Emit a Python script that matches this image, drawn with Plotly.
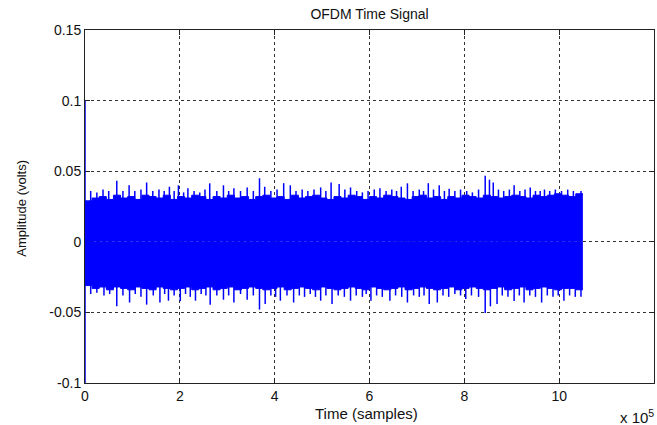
import plotly.graph_objects as go

# ---- data (time in units of 1e5 samples, amplitude in volts) ----
env_t = [round(i * 0.15, 2) for i in range(71)]  # bin starts 0 .. 10.5
env_upper = [0.029, 0.031, 0.032, 0.030, 0.033, 0.031, 0.032, 0.030, 0.033, 0.032,
             0.031, 0.033, 0.030, 0.032, 0.031, 0.033, 0.032, 0.030, 0.032, 0.031,
             0.033, 0.031, 0.032, 0.030, 0.032, 0.033, 0.031, 0.032, 0.030, 0.033,
             0.031, 0.032, 0.033, 0.031, 0.030, 0.032, 0.031, 0.033, 0.032, 0.030,
             0.032, 0.031, 0.033, 0.032, 0.031, 0.030, 0.032, 0.033, 0.031, 0.032,
             0.030, 0.032, 0.031, 0.033, 0.032, 0.031, 0.033, 0.032, 0.031, 0.032,
             0.033, 0.032, 0.031, 0.033, 0.032, 0.033, 0.034, 0.033, 0.032, 0.034, 0.034]
env_lower = [-0.031, -0.033, -0.032, -0.034, -0.032, -0.033, -0.034, -0.032, -0.033, -0.034,
             -0.032, -0.033, -0.034, -0.033, -0.032, -0.034, -0.033, -0.032, -0.034, -0.033,
             -0.032, -0.034, -0.033, -0.032, -0.033, -0.034, -0.033, -0.032, -0.034, -0.033,
             -0.032, -0.033, -0.034, -0.032, -0.033, -0.034, -0.033, -0.032, -0.033, -0.034,
             -0.032, -0.033, -0.034, -0.033, -0.032, -0.034, -0.033, -0.032, -0.033, -0.034,
             -0.033, -0.032, -0.034, -0.033, -0.032, -0.033, -0.034, -0.033, -0.032, -0.034,
             -0.033, -0.032, -0.034, -0.033, -0.032, -0.033, -0.034, -0.033, -0.033, -0.034, -0.034]

top_spike_t = [0.00, 0.12, 0.25, 0.38, 0.50, 0.67, 0.80, 0.93, 1.05, 1.18, 1.30, 1.43, 1.56, 1.67,
               1.78, 1.88, 1.97, 2.08, 2.17, 2.30, 2.42, 2.53, 2.63, 2.78, 2.92, 3.03, 3.14, 3.28,
               3.42, 3.55, 3.68, 3.79, 3.92, 4.05, 4.19, 4.33, 4.45, 4.58, 4.70, 4.83, 4.97, 5.08,
               5.19, 5.36, 5.48, 5.60, 5.73, 5.85, 5.97, 6.10, 6.22, 6.35, 6.47, 6.57, 6.67, 6.80,
               6.92, 7.05, 7.14, 7.24, 7.35, 7.47, 7.58, 7.68, 7.80, 7.92, 8.05, 8.17, 8.30, 8.44,
               8.53, 8.61, 8.72, 8.83, 8.95, 9.05, 9.17, 9.28, 9.39, 9.50, 9.60, 9.69, 9.80, 9.92,
               10.05, 10.18, 10.30, 10.46]
top_spike_v = [0.100, 0.036, 0.035, 0.037, 0.036, 0.0433, 0.036, 0.040, 0.036, 0.037, 0.042, 0.036, 0.037, 0.036,
               0.039, 0.036, 0.040, 0.035, 0.038, 0.036, 0.035, 0.037, 0.0414, 0.036, 0.040, 0.036, 0.038, 0.036,
               0.0385, 0.036, 0.045, 0.039, 0.036, 0.037, 0.0415, 0.040, 0.036, 0.037, 0.036, 0.037, 0.0385, 0.036,
               0.042, 0.041, 0.037, 0.0385, 0.036, 0.035, 0.036, 0.037, 0.038, 0.036, 0.037, 0.036, 0.039, 0.0414,
               0.036, 0.037, 0.036, 0.0415, 0.037, 0.040, 0.036, 0.0375, 0.036, 0.037, 0.036, 0.035, 0.037, 0.0467,
               0.044, 0.042, 0.037, 0.036, 0.037, 0.040, 0.036, 0.037, 0.0385, 0.036, 0.036, 0.037, 0.036, 0.037,
               0.036, 0.037, 0.036, 0.036]

bot_spike_t = [0.00, 0.12, 0.25, 0.40, 0.52, 0.67, 0.80, 0.94, 1.06, 1.18, 1.30, 1.44, 1.58, 1.68,
               1.76, 1.88, 2.01, 2.12, 2.22, 2.33, 2.45, 2.55, 2.64, 2.78, 2.92, 3.03, 3.14, 3.28,
               3.42, 3.55, 3.68, 3.80, 3.92, 4.02, 4.12, 4.26, 4.40, 4.52, 4.63, 4.75, 4.86, 4.97,
               5.08, 5.21, 5.34, 5.47, 5.60, 5.72, 5.85, 5.93, 6.03, 6.15, 6.27, 6.43, 6.55, 6.68,
               6.80, 6.93, 7.05, 7.15, 7.26, 7.43, 7.55, 7.67, 7.80, 7.92, 8.03, 8.15, 8.30, 8.44,
               8.55, 8.69, 8.80, 8.92, 9.05, 9.16, 9.26, 9.38, 9.50, 9.63, 9.75, 9.87, 9.98, 10.10,
               10.22, 10.34, 10.46]
bot_spike_v = [-0.100, -0.037, -0.036, -0.038, -0.037, -0.0457, -0.038, -0.043, -0.037, -0.039, -0.0445, -0.038, -0.043, -0.037,
               -0.0417, -0.038, -0.042, -0.037, -0.039, -0.0417, -0.037, -0.038, -0.0445, -0.038, -0.041, -0.038, -0.043, -0.037,
               -0.041, -0.038, -0.048, -0.044, -0.038, -0.039, -0.0417, -0.038, -0.043, -0.038, -0.039, -0.037, -0.039, -0.0417,
               -0.038, -0.044, -0.038, -0.039, -0.0417, -0.038, -0.039, -0.037, -0.0417, -0.038, -0.039, -0.0417, -0.038, -0.039,
               -0.043, -0.038, -0.039, -0.038, -0.044, -0.043, -0.038, -0.039, -0.037, -0.038, -0.0405, -0.038, -0.039, -0.0505,
               -0.0457, -0.044, -0.038, -0.039, -0.042, -0.038, -0.043, -0.038, -0.039, -0.043, -0.038, -0.039, -0.038, -0.0417,
               -0.038, -0.039, -0.039]

x_ticks = [0, 2, 4, 6, 8, 10, 12]
y_ticks = [-0.1, -0.05, 0, 0.05, 0.1, 0.15]
y_tick_text = ["-0.1", "-0.05", "0", "0.05", "0.1", "0.15"]

BLUE = "#0000FF"
FONT = "Liberation Sans"


def segments(ts, vs):
    xs, ys = [], []
    for t, v in zip(ts, vs):
        xs += [t, t, None]
        ys += [0, v, None]
    return xs, ys


fig = go.Figure()
fig.add_trace(go.Scatter(x=env_t, y=env_upper, mode="lines", line=dict(color=BLUE, width=1, shape="hv"),
                         fill="tozeroy", fillcolor=BLUE, hoverinfo="skip"))
fig.add_trace(go.Scatter(x=env_t, y=env_lower, mode="lines", line=dict(color=BLUE, width=1, shape="hv"),
                         fill="tozeroy", fillcolor=BLUE, hoverinfo="skip"))
sx, sy = segments(top_spike_t, top_spike_v)
fig.add_trace(go.Scatter(x=sx, y=sy, mode="lines", line=dict(color=BLUE, width=1.5), hoverinfo="skip"))
sx, sy = segments(bot_spike_t, bot_spike_v)
fig.add_trace(go.Scatter(x=sx, y=sy, mode="lines", line=dict(color=BLUE, width=1.5), hoverinfo="skip"))

axis_common = dict(showline=True, linecolor="#222", linewidth=1, mirror="ticks", ticks="inside",
                   ticklen=5, tickcolor="#222", showgrid=True, gridcolor="#333", gridwidth=1,
                   griddash="3px,3px", zeroline=False, automargin=False,
                   tickfont=dict(family=FONT, size=14, color="#111"))
fig.update_xaxes(range=[0, 12], tickvals=x_ticks, ticktext=[str(v) for v in x_ticks], **axis_common)
fig.update_yaxes(range=[-0.1, 0.15], tickvals=y_ticks, ticktext=y_tick_text, layer="below traces",
                 **axis_common)

fig.update_layout(
    width=657, height=425,
    margin=dict(l=85, r=3, t=30, b=42),
    paper_bgcolor="white", plot_bgcolor="white", showlegend=False,
    title=dict(text="OFDM Time Signal", x=0.5, xref="paper", xanchor="center",
               y=1 - 14 / 425, yref="container", yanchor="middle",
               font=dict(family=FONT, size=14, color="#111")),
    annotations=[
        dict(text="Time (samples)", xref="paper", yref="paper", x=0.494, y=-0.085,
             xanchor="center", yanchor="middle", showarrow=False,
             font=dict(family=FONT, size=15, color="#111")),
        dict(text="Amplitude (volts)", xref="paper", yref="paper", x=-0.111, y=0.496,
             xanchor="center", yanchor="middle", showarrow=False, textangle=-90,
             font=dict(family=FONT, size=13, color="#111")),
        dict(text="x 10<sup>5</sup>", xref="paper", yref="paper", x=1.004, y=-0.096,
             xanchor="right", yanchor="middle", showarrow=False,
             font=dict(family=FONT, size=15, color="#111")),
    ],
)

fig.write_html("out.html", config={"displayModeBar": False},
               post_script="document.body.style.margin='0';document.body.style.padding='0';")
